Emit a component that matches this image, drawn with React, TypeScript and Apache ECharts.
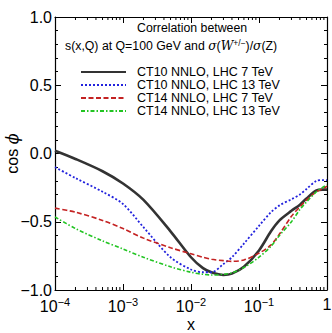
import React, { useEffect, useRef } from "react";
import * as echarts from "echarts";

const xValues = [1e-4, 2e-4, 5e-4, 1e-3, 2e-3, 5e-3, 0.01, 0.015, 0.02, 0.03, 0.04, 0.06, 0.1, 0.15, 0.2, 0.3, 0.4, 0.5, 0.7, 0.85, 1];
const ct10lhc7 = [0.02, -0.04, -0.13, -0.22, -0.34, -0.57, -0.76, -0.84, -0.87, -0.89, -0.88, -0.83, -0.71, -0.57, -0.49, -0.42, -0.375, -0.33, -0.27, -0.265, -0.265];
const ct10lhc13 = [-0.10, -0.18, -0.28, -0.37, -0.54, -0.76, -0.85, -0.87, -0.87, -0.81, -0.76, -0.66, -0.53, -0.43, -0.38, -0.335, -0.30, -0.26, -0.20, -0.195, -0.195];
const ct14lhc7 = [-0.40, -0.43, -0.49, -0.55, -0.62, -0.69, -0.735, -0.76, -0.775, -0.785, -0.79, -0.78, -0.73, -0.67, -0.59, -0.46, -0.39, -0.34, -0.28, -0.26, -0.24];
const ct14lhc13 = [-0.465, -0.55, -0.64, -0.70, -0.76, -0.83, -0.87, -0.885, -0.89, -0.885, -0.875, -0.835, -0.76, -0.68, -0.60, -0.50, -0.41, -0.355, -0.28, -0.25, -0.23];
const seriesNames = ["CT10 NNLO, LHC 7 TeV", "CT10 NNLO, LHC 13 TeV", "CT14 NNLO, LHC 7 TeV", "CT14 NNLO, LHC 13 TeV"];

const FONT = "Liberation Sans, Arial, Helvetica, sans-serif";

function minorXTicks(): number[][] {
  const out: number[][] = [];
  for (let d = -4; d < 0; d++) {
    for (let k = 2; k <= 9; k++) out.push([k * Math.pow(10, d), -1]);
  }
  return out;
}

export default function App() {
  const ref = useRef<HTMLDivElement>(null);
  useEffect(() => {
    if (!ref.current) return;
    const chart = echarts.init(ref.current, null, { renderer: "svg" });
    const mk = (arr: number[]) => xValues.map((x, i) => [x, arr[i]]);
    const frameLine = { show: true, onZero: false, lineStyle: { color: "#000", width: 1.2 } };
    const xLabelFmt = (v: number) => {
      const e = Math.round(Math.log10(v));
      if (e === 0) return "{b|1}";
      return "{b|10}{s|" + (e < 0 ? "\u2212" + -e : "" + e) + "}";
    };
    const richX = {
      b: { fontSize: 16, fontFamily: FONT, color: "#000" },
      s: { fontSize: 11, fontFamily: FONT, color: "#000", padding: [0, 0, 9, 0] },
    };
    const option: any = {
      animation: false,
      textStyle: { fontFamily: FONT },
      grid: { left: 55, right: 5, top: 17, bottom: 43, containLabel: false, outerBoundsMode: "none" },
      title: [
        {
          text: "Correlation between",
          left: 137,
          top: 22,
          padding: 0,
          textStyle: { fontSize: 12.3, fontWeight: "normal", fontFamily: FONT, color: "#000" },
        },
        {
          text: "s(x,Q) at Q=100 GeV and {i|\u03c3}({i|W}{s|+/\u2212})/{i|\u03c3}(Z)",
          left: 65,
          top: 38,
          padding: 0,
          textStyle: {
            fontSize: 12.3,
            fontWeight: "normal",
            fontFamily: FONT,
            color: "#000",
            rich: {
              i: { fontSize: 12.3, fontStyle: "italic", fontFamily: "DejaVu Serif, serif", color: "#000" },
              s: { fontSize: 8.5, fontFamily: FONT, color: "#000", padding: [0, 0, 7, 0] },
            },
          },
        },
      ],
      legend: {
        orient: "vertical",
        left: 80,
        top: 65.4,
        itemWidth: 45,
        itemHeight: 13.8,
        itemGap: 0,
        padding: 0,
        itemStyle: { opacity: 0 },
        textStyle: { fontSize: 12.5, fontFamily: FONT, color: "#000", padding: [0, 0, 0, 6] },
        data: seriesNames,
      },
      xAxis: [
        {
          type: "log",
          logBase: 10,
          min: 1e-4,
          max: 1,
          position: "bottom",
          axisLine: frameLine,
          axisTick: { show: true, inside: true, length: 6, lineStyle: { color: "#000", width: 1 } },
          axisLabel: { formatter: xLabelFmt, rich: richX, margin: 6 },
          splitLine: { show: false },
          name: "x",
          nameLocation: "middle",
          nameGap: 26,
          nameMoveOverlap: false,
          nameTextStyle: { fontSize: 16, fontFamily: FONT, color: "#000" },
        },
        {
          type: "log",
          logBase: 10,
          min: 1e-4,
          max: 1,
          position: "top",
          axisLine: frameLine,
          axisTick: { show: true, inside: true, length: 6, lineStyle: { color: "#000", width: 1 } },
          axisLabel: { show: false },
          splitLine: { show: false },
        },
      ],
      yAxis: [
        {
          type: "value",
          min: -1,
          max: 1,
          interval: 0.5,
          position: "left",
          axisLine: frameLine,
          axisTick: { show: true, inside: true, length: 6, lineStyle: { color: "#000", width: 1 } },
          minorTick: { show: true, splitNumber: 5, length: 3, lineStyle: { color: "#000", width: 1 } },
          axisLabel: {
            formatter: (v: number) => (v < 0 ? "\u2212" : "") + Math.abs(v).toFixed(1),
            fontSize: 16,
            fontFamily: FONT,
            color: "#000",
            margin: 3,
          },
          splitLine: { show: false },
          minorSplitLine: { show: false },
          name: "cos {i|\u03d5}",
          nameLocation: "middle",
          nameGap: 35,
          nameRotate: 90,
          nameMoveOverlap: false,
          nameTextStyle: {
            fontSize: 16,
            fontFamily: FONT,
            color: "#000",
            rich: { i: { fontSize: 16, fontStyle: "italic", fontFamily: "DejaVu Serif, serif", color: "#000" } },
          },
        },
        {
          type: "value",
          min: -1,
          max: 1,
          interval: 0.5,
          position: "right",
          axisLine: frameLine,
          axisTick: { show: true, inside: true, length: 6, lineStyle: { color: "#000", width: 1 } },
          minorTick: { show: true, splitNumber: 5, length: 3, lineStyle: { color: "#000", width: 1 } },
          axisLabel: { show: false },
          splitLine: { show: false },
          minorSplitLine: { show: false },
        },
      ],
      series: [
        {
          type: "custom",
          silent: true,
          xAxisIndex: 0,
          yAxisIndex: 0,
          data: minorXTicks(),
          encode: { x: 0, y: 1 },
          renderItem: (params: any, api: any) => {
            const x = api.value(0);
            const b = api.coord([x, -1]);
            const t = api.coord([x, 1]);
            const st = { stroke: "#000", lineWidth: 1 };
            return {
              type: "group",
              children: [
                { type: "line", shape: { x1: b[0], y1: b[1], x2: b[0], y2: b[1] - 3 }, style: st },
                { type: "line", shape: { x1: t[0], y1: t[1], x2: t[0], y2: t[1] + 3 }, style: st },
              ],
            };
          },
        },
        {
          name: seriesNames[0],
          type: "line",
          data: mk(ct10lhc7),
          symbol: "none",
          smooth: 0.3,
          color: "#333333",
          lineStyle: { color: "#333333", width: 2.6, type: "solid" },
        },
        {
          name: seriesNames[1],
          type: "line",
          data: mk(ct10lhc13),
          symbol: "none",
          smooth: 0.3,
          color: "#2222dd",
          lineStyle: { color: "#2222dd", width: 1.8, type: [2, 2] },
        },
        {
          name: seriesNames[2],
          type: "line",
          data: mk(ct14lhc7),
          symbol: "none",
          smooth: 0.3,
          color: "#c42222",
          lineStyle: { color: "#c42222", width: 1.6, type: [5, 2.5] },
        },
        {
          name: seriesNames[3],
          type: "line",
          data: mk(ct14lhc13),
          symbol: "none",
          smooth: 0.3,
          color: "#22c422",
          lineStyle: { color: "#22c422", width: 1.6, type: [4, 2, 1.5, 2] },
        },
      ],
    };
    chart.setOption(option);
    return () => chart.dispose();
  }, []);
  return <div ref={ref} style={{ width: 332, height: 333, position: "absolute", left: 0, top: 0 }} />;
}
